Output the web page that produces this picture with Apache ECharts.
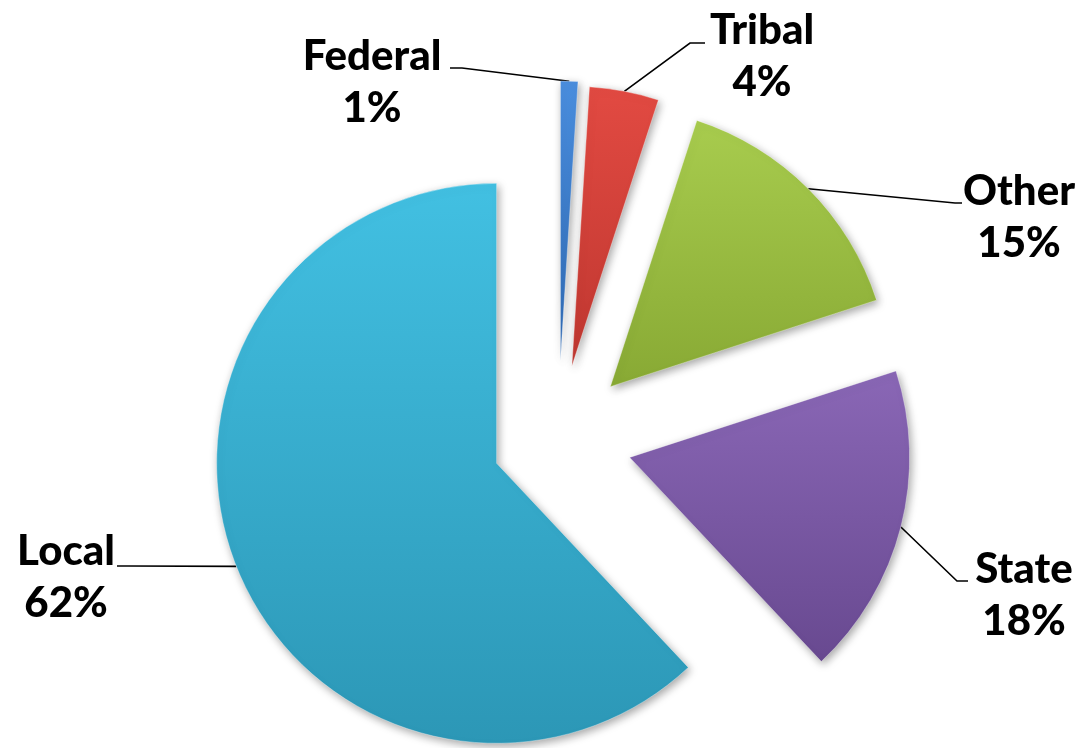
<!DOCTYPE html>
<html>
<head>
<meta charset="utf-8">
<script src="https://cdn.jsdelivr.net/npm/echarts@6/dist/echarts.min.js"></script>
<style>
  html, body { margin: 0; padding: 0; background: #fff; }
  #main { width: 1082px; height: 748px; }
</style>
</head>
<body>
<div id="main"></div>
<script>
// data
var categories = ["Federal", "Tribal", "Other", "State", "Local"];
var shares = [1, 4, 15, 18, 62];

// styles / layout
var topColors = ["#4a8ede", "#e24a42", "#a8cc4e", "#8a67b6", "#42c0e2"];
var bottomColors = ["#2e69b3", "#bf3730", "#88a934", "#684990", "#2c97b6"];
var pieCenter = [558, 439];
var pieRadius = 280;
var explode = [78, 74, 74, 74, 66];
// label text centre and the two end points of each leader line
var labelPos = [[372, 82], [762, 56], [1019, 217], [1024, 595], [66, 577]];
var lineEnds = [
  [[462, 68], [450, 68]],
  [[690, 43], [705, 43]],
  [[955, 203], [962, 203]],
  [[957, 581], [968, 581]],
  [[128, 566], [117, 566]]
];

var total = shares.reduce(function(a, b) { return a + b; }, 0);

var series = [];
var before = 0;
categories.forEach(function(name, i) {
  var v = shares[i];
  var after = total - before - v;
  var mid = (before + v / 2) / total * Math.PI * 2;
  var dx = Math.sin(mid) * explode[i];
  var dy = -Math.cos(mid) * explode[i];
  var blank = {
    itemStyle: { color: "rgba(0,0,0,0)", shadowBlur: 0, borderWidth: 0 },
    label: { show: false },
    labelLine: { show: false }
  };
  series.push({
    type: "pie",
    silent: true,
    animation: false,
    center: [pieCenter[0] + dx, pieCenter[1] + dy],
    radius: pieRadius,
    startAngle: 90,
    clockwise: true,
    avoidLabelOverlap: false,
    label: {
      show: true,
      position: "outside",
      formatter: "{b}\n{d}%",
      fontFamily: "Lato",
      fontWeight: 900,
      fontSize: 42,
      lineHeight: 52,
      color: "#000",
      align: "center"
    },
    labelLine: {
      show: true,
      lineStyle: { color: "#000", width: 1.6 }
    },
    labelLayout: function(params) {
      var p0 = params.labelLinePoints ? params.labelLinePoints[0] : lineEnds[i][0];
      return {
        x: labelPos[i][0],
        y: labelPos[i][1],
        align: "center",
        verticalAlign: "middle",
        labelLinePoints: [p0, lineEnds[i][0], lineEnds[i][1]]
      };
    },
    data: [
      Object.assign({ name: "_a", value: before }, blank),
      {
        name: name,
        value: v,
        itemStyle: {
          color: {
            type: "linear", x: 0, y: 0, x2: 0, y2: 1,
            colorStops: [
              { offset: 0, color: topColors[i] },
              { offset: 1, color: bottomColors[i] }
            ]
          },
          borderColor: "rgba(255,255,255,0.35)",
          borderWidth: 1,
          shadowBlur: 8,
          shadowColor: "rgba(0,0,0,0.35)",
          shadowOffsetX: 2,
          shadowOffsetY: 3
        }
      },
      Object.assign({ name: "_b", value: after }, blank)
    ]
  });
  before += v;
});

var myChart = echarts.init(document.getElementById("main"));
myChart.setOption({
  backgroundColor: "#fff",
  series: series
});
</script>
</body>
</html>
